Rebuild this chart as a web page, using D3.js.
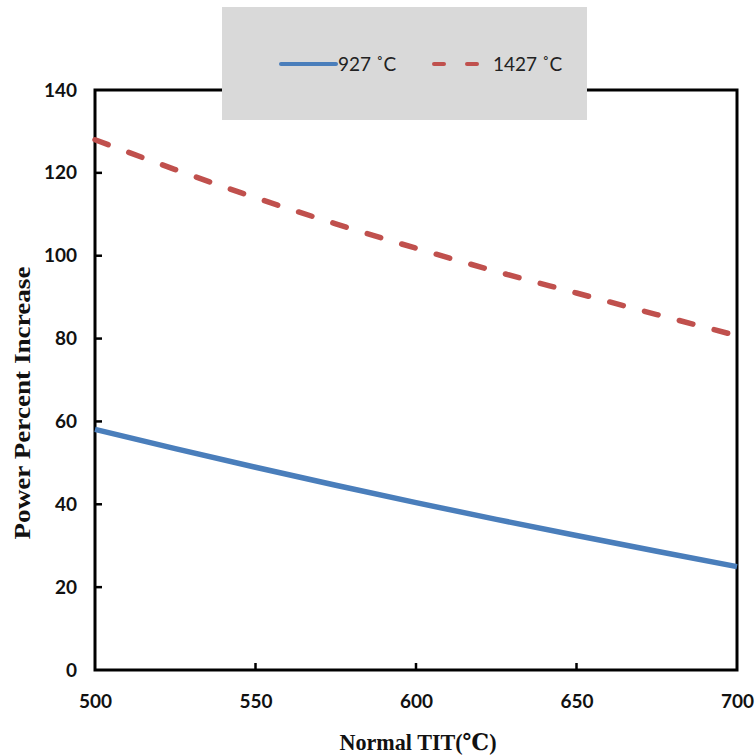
<!DOCTYPE html>
<html><head><meta charset="utf-8">
<script src="https://cdn.jsdelivr.net/npm/d3@7"></script>
<style>body{margin:0;background:#fff}</style>
</head><body>
<script>
const xValues = [500, 525, 550, 575, 600, 625, 650, 675, 700];
const series927 = [58.1, 53.45, 48.95, 44.6, 40.4, 36.35, 32.45, 28.65, 24.95];
const series1427 = [128.0, 120.8, 114.0, 107.7, 101.8, 96.2, 91.0, 85.8, 80.7];
const xTicks = [500, 550, 600, 650, 700];
const yTicks = [0, 20, 40, 60, 80, 100, 120, 140];
const seriesNames = ["927 \u02DAC", "1427 \u02DAC"];

const W = 755, H = 756;
const m = {left: 95, right: 737, top: 90, bottom: 670};
const svg = d3.select("body").append("svg").attr("width", W).attr("height", H);

const x = d3.scaleLinear().domain([500, 700]).range([m.left, m.right]);
const y = d3.scaleLinear().domain([0, 140]).range([m.bottom, m.top]);

const labelFont = "Lato, 'Open Sans', sans-serif";
const serifFont = "'Liberation Serif', 'DejaVu Serif', serif";

// axes
const xAxis = svg.append("g").attr("transform", `translate(0,${m.bottom})`)
  .call(d3.axisBottom(x).tickValues(xTicks).tickSize(0).tickPadding(25).tickFormat(d3.format("d")));
const yAxis = svg.append("g").attr("transform", `translate(${m.left},0)`)
  .call(d3.axisLeft(y).tickValues(yTicks).tickSize(0).tickPadding(18).tickFormat(d3.format("d")));
[xAxis, yAxis].forEach(g => {
  g.select(".domain").remove();
  g.selectAll("text").attr("font-family", labelFont).attr("font-weight", "bold")
    .attr("font-size", 19).attr("fill", "#111");
});

// inward tick marks
svg.append("g").selectAll("line").data(xTicks.slice(1, -1)).join("line")
  .attr("x1", d => x(d)).attr("x2", d => x(d)).attr("y1", m.bottom).attr("y2", m.bottom - 7)
  .attr("stroke", "#000").attr("stroke-width", 2.5);
svg.append("g").selectAll("line").data(yTicks.slice(1, -1)).join("line")
  .attr("x1", m.left).attr("x2", m.left + 7).attr("y1", d => y(d)).attr("y2", d => y(d))
  .attr("stroke", "#000").attr("stroke-width", 2.5);

// frame
svg.append("rect").attr("x", m.left).attr("y", m.top)
  .attr("width", m.right - m.left).attr("height", m.bottom - m.top)
  .attr("fill", "none").attr("stroke", "#000").attr("stroke-width", 3);

// lines
const line = d3.line().x((d, i) => x(xValues[i])).y(d => y(d)).curve(d3.curveMonotoneX);
svg.append("path").datum(series927).attr("d", line)
  .attr("fill", "none").attr("stroke", "#4A7EBB").attr("stroke-width", 5.5);
svg.append("path").datum(series1427).attr("d", line)
  .attr("fill", "none").attr("stroke", "#C0504D").attr("stroke-width", 5.5)
  .attr("stroke-dasharray", "14,22").attr("stroke-linecap", "round");

// axis titles
svg.append("text").attr("x", 418).attr("y", 750)
  .attr("text-anchor", "middle").attr("font-family", serifFont).attr("font-weight", "bold")
  .attr("font-size", 23).attr("fill", "#111")
  .attr("textLength", 157).attr("lengthAdjust", "spacingAndGlyphs").text("Normal TIT(\u2103)");
svg.append("text").attr("transform", `translate(30,${403}) rotate(-90)`)
  .attr("text-anchor", "middle").attr("font-family", serifFont).attr("font-weight", "bold")
  .attr("font-size", 23).attr("fill", "#111")
  .attr("textLength", 273).attr("lengthAdjust", "spacingAndGlyphs").text("Power Percent Increase");

// legend
const lg = svg.append("g");
lg.append("rect").attr("x", 222).attr("y", 7).attr("width", 365).attr("height", 113).attr("fill", "#D9D9D9");
lg.append("line").attr("x1", 281).attr("x2", 336).attr("y1", 64).attr("y2", 64)
  .attr("stroke", "#4A7EBB").attr("stroke-width", 4).attr("stroke-linecap", "round");
lg.append("text").attr("x", 338).attr("y", 71).attr("font-family", labelFont)
  .attr("font-size", 19).attr("fill", "#222").text(seriesNames[0]);
lg.append("line").attr("x1", 434).attr("x2", 482).attr("y1", 64).attr("y2", 64)
  .attr("stroke", "#C0504D").attr("stroke-width", 4).attr("stroke-linecap", "round")
  .attr("stroke-dasharray", "10,23");
lg.append("text").attr("x", 493).attr("y", 71).attr("font-family", labelFont)
  .attr("font-size", 19).attr("fill", "#222").text(seriesNames[1]);
</script>
</body></html>
